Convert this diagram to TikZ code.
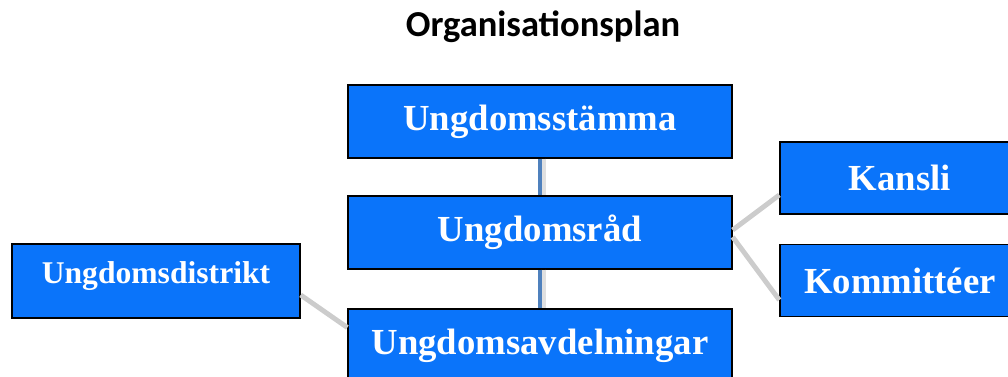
\documentclass[tikz,border=0pt]{standalone}
\usepackage{fontspec}
\setmainfont{Liberation Serif}
\newfontfamily\titlefont{Carlito}
\usepackage{tikz}
\definecolor{boxblue}{RGB}{10,116,250}
\definecolor{linkblue}{RGB}{79,129,189}

\begin{document}
\begin{tikzpicture}[x=0.02cm, y=-0.02cm,
  box/.style={draw=black, line width=0.8pt, fill=boxblue, text=white,
    font=\bfseries\fontsize{20.9}{24}\selectfont, inner sep=0pt,
    minimum width=7.68cm, minimum height=1.46cm},
  sidebox/.style={box, minimum width=4.8cm, minimum height=1.44cm},
  link/.style={linkblue, line width=2.8pt},
  linkshadow/.style={black!12, line width=2.6pt},
  sidelink/.style={black!20, line width=2.8pt}]
%\draw [color=gray, very thin] (0,0) grid [step=50] (1008,377);
\useasboundingbox (0,0) rectangle (1008,377);
\node [font=\titlefont\bfseries\fontsize{20.8}{25}\selectfont] (title) at (543,27) {Organisationsplan};
\node [box] (stamma) at (540,121.5) {Ungdomsstämma};
\node [box] (rad) at (540,232.5) {Ungdomsråd};
\node [box] (avd) at (540,345.5) {Ungdomsavdelningar};
\node [box, minimum width=5.76cm, minimum height=1.48cm, text depth=10pt,
  font=\bfseries\fontsize{18}{21}\selectfont] (distrikt) at (156,281) {Ungdomsdistrikt};
\node [sidebox] (kansli) at (900,178) {Kansli};
\node [sidebox] (komm) at (900,280.5) {Kommittéer};
% connectors
\draw [linkshadow] ([xshift=0.07cm]stamma.south) -- ([xshift=0.07cm]rad.north);
\draw [linkshadow] ([xshift=0.07cm]rad.south) -- ([xshift=0.07cm]avd.north);
\draw [link] (stamma.south) -- (rad.north);
\draw [link] (rad.south) -- (avd.north);
\draw [sidelink] ([yshift=0.05cm]rad.east) -- ([yshift=-0.34cm]kansli.west);
\draw [sidelink] ([yshift=-0.09cm]rad.east) -- ([yshift=-0.39cm]komm.west);
\draw [sidelink] ([yshift=-0.28cm]distrikt.east) -- ([yshift=0.36cm]avd.west);
\end{tikzpicture}
\end{document}
